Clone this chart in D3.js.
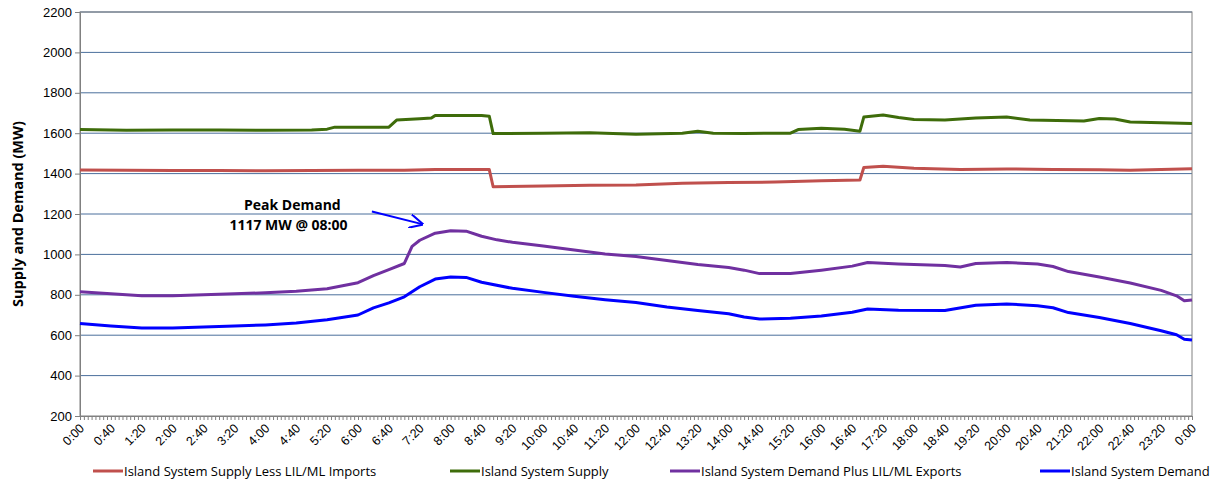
<!DOCTYPE html>
<html><head><meta charset="utf-8">
<script src="https://cdn.jsdelivr.net/npm/d3@7"></script>
<style>body{margin:0;background:#fff;font-family:"Open Sans","Liberation Sans",Arial,sans-serif}</style>
</head><body><div id="chart"></div>
<script>
// readings as "H:MM value"
const supplyLess = ["0:00 1418","1:00 1416","2:00 1415","3:00 1415","4:00 1414","5:00 1415","6:00 1416","7:00 1416","7:40 1420","8:50 1420","8:55 1335","10:00 1338","11:00 1342","12:00 1343","13:00 1352","14:00 1356","15:00 1358","16:00 1364","16:50 1368","16:55 1430","17:20 1436","18:00 1426","19:00 1420","20:00 1423","21:00 1420","22:00 1419","22:40 1416","23:20 1420","24:00 1424"];
const supply = ["0:00 1618","1:00 1615","2:00 1616","3:00 1616","4:00 1614","5:00 1616","5:20 1620","5:30 1630","6:40 1630","6:50 1665","7:20 1672","7:35 1675","7:40 1688","8:40 1688","8:50 1684","8:55 1598","10:00 1600","11:00 1602","12:00 1595","13:00 1600","13:20 1610","13:40 1600","14:20 1598","15:00 1600","15:20 1600","15:30 1618","16:00 1624","16:30 1620","16:50 1610","16:55 1680","17:20 1690","17:40 1678","18:00 1668","18:40 1665","19:20 1675","20:00 1680","20:30 1665","21:40 1660","22:00 1673","22:20 1670","22:40 1655","23:20 1652","24:00 1648"];
const demandPlus = ["0:00 815","0:40 805","1:00 800","1:20 795","2:00 795","2:40 800","3:20 805","4:00 810","4:40 818","5:20 830","5:40 845","6:00 860","6:20 895","6:40 925","7:00 955","7:10 1040","7:20 1070","7:40 1105","8:00 1117","8:20 1115","8:40 1090","9:00 1072","9:20 1060","10:00 1042","10:40 1022","11:20 1002","12:00 990","12:40 970","13:20 950","14:00 935","14:20 922","14:40 905","15:20 905","16:00 922","16:40 942","17:00 960","17:40 952","18:40 945","19:00 938","19:20 955","20:00 960","20:40 952","21:00 940","21:20 915","22:00 888","22:40 858","23:20 822","23:40 795","23:50 770","24:00 774"];
const demand = ["0:00 658","0:40 646","1:20 636","2:00 636","2:40 640","3:20 645","4:00 651","4:40 660","5:20 676","6:00 700","6:20 735","6:40 760","7:00 790","7:20 840","7:40 878","8:00 888","8:20 886","8:40 862","9:20 832","10:00 812","10:40 793","11:20 776","12:00 762","12:40 740","13:20 722","14:00 706","14:20 690","14:40 680","15:20 684","16:00 695","16:40 714","17:00 730","17:40 724","18:40 722","19:20 748","20:00 755","20:40 746","21:00 736","21:20 712","22:00 688","22:40 658","23:20 622","23:40 602","23:50 580","24:00 576"];
const seriesNames = ["Island System Supply Less LIL/ML Imports","Island System Supply","Island System Demand Plus LIL/ML Exports","Island System Demand"];
const seriesColors = ["#c0504d","#3e6c0a","#7030a0","#0000ff"];
const yTicks = [200,400,600,800,1000,1200,1400,1600,1800,2000,2200];

const parse = s => { const [t,v]=s.split(" "); const [h,m]=t.split(":"); return {t:+h*60+ +m, v:+v}; };
const data = [supplyLess,supply,demandPlus,demand].map(a=>a.map(parse));

const W=1219,H=483, m={top:12,right:27,bottom:67,left:80};
const svg=d3.select("#chart").append("svg").attr("width",W).attr("height",H);
const x=d3.scaleLinear().domain([0,1440]).range([m.left,W-m.right]);
const y=d3.scaleLinear().domain([200,2200]).range([H-m.bottom,m.top]);

svg.append("g").selectAll("line").data(yTicks.slice(1)).enter().append("line")
  .attr("x1",m.left).attr("x2",W-m.right).attr("y1",d=>y(d)).attr("y2",d=>y(d))
  .attr("stroke","#4a6f9c").attr("stroke-width",1);
svg.append("rect").attr("x",m.left).attr("y",m.top).attr("width",W-m.right-m.left).attr("height",H-m.bottom-m.top)
  .attr("fill","none").attr("stroke","#808080");

svg.append("g").attr("transform",`translate(${m.left},0)`)
  .call(d3.axisLeft(y).tickValues(yTicks).tickFormat(d3.format("d")).tickSize(5).tickSizeOuter(0))
  .call(g=>g.select(".domain").attr("stroke","#808080"))
  .call(g=>g.selectAll(".tick line").attr("stroke","#808080"))
  .call(g=>g.selectAll(".tick text").attr("font-size",13).attr("fill","#000").attr("font-family","inherit"));

const xg=svg.append("g").attr("transform",`translate(0,${H-m.bottom})`);
xg.call(d3.axisBottom(x).tickValues(d3.range(0,1441,5)).tickSize(4).tickFormat(""))
  .call(g=>g.select(".domain").attr("stroke","#808080"))
  .call(g=>g.selectAll(".tick line").attr("stroke","#808080"));
xg.selectAll(".lbl").data(d3.range(0,1441,40)).enter().append("text")
  .attr("transform",d=>`translate(${x(d)+5},13) rotate(-45)`)
  .attr("text-anchor","end").attr("font-size",12.5).attr("fill","#000").attr("font-family","inherit")
  .text(d=>`${Math.floor(d/60)%24}:${String(d%60).padStart(2,"0")}`);

svg.append("text").attr("transform",`translate(23,${(m.top+H-m.bottom)/2}) rotate(-90)`)
  .attr("text-anchor","middle").attr("font-weight","bold").attr("font-size",14.5).text("Supply and Demand (MW)");

const line=d3.line().x(d=>x(d.t)).y(d=>y(d.v));
svg.append("g").selectAll("path").data(data).enter().append("path")
  .attr("d",line).attr("fill","none").attr("stroke",(d,i)=>seriesColors[i])
  .attr("stroke-width",3).attr("stroke-linejoin","round");

// annotation
svg.append("text").attr("x",x(275)).attr("y",y(1220)).attr("text-anchor","middle")
  .attr("font-weight","bold").attr("font-size",14).text("Peak Demand");
svg.append("text").attr("x",x(270)).attr("y",y(1120)).attr("text-anchor","middle")
  .attr("font-weight","bold").attr("font-size",14).text("1117 MW @ 08:00");
svg.append("defs").append("marker").attr("id","ar").attr("viewBox","0 0 10 10").attr("refX",9).attr("refY",5)
  .attr("markerWidth",7).attr("markerHeight",7).attr("orient","auto")
  .append("path").attr("d","M0,0 L10,5 L0,10").attr("fill","none").attr("stroke","#0000ff").attr("stroke-width",1.5);
svg.append("line").attr("x1",x(378)).attr("y1",y(1212)).attr("x2",x(443)).attr("y2",y(1150))
  .attr("stroke","#0000ff").attr("stroke-width",2).attr("marker-end","url(#ar)");

// legend
const lx=[93,450,670,1040];
const lg=svg.append("g").selectAll("g").data(seriesNames).enter().append("g")
  .attr("transform",(d,i)=>`translate(${lx[i]},471)`);
lg.append("line").attr("x1",0).attr("x2",30).attr("stroke",(d,i)=>seriesColors[i]).attr("stroke-width",3);
lg.append("text").attr("x",31).attr("y",4.5).attr("font-size",13).text(d=>d);
</script></body></html>
